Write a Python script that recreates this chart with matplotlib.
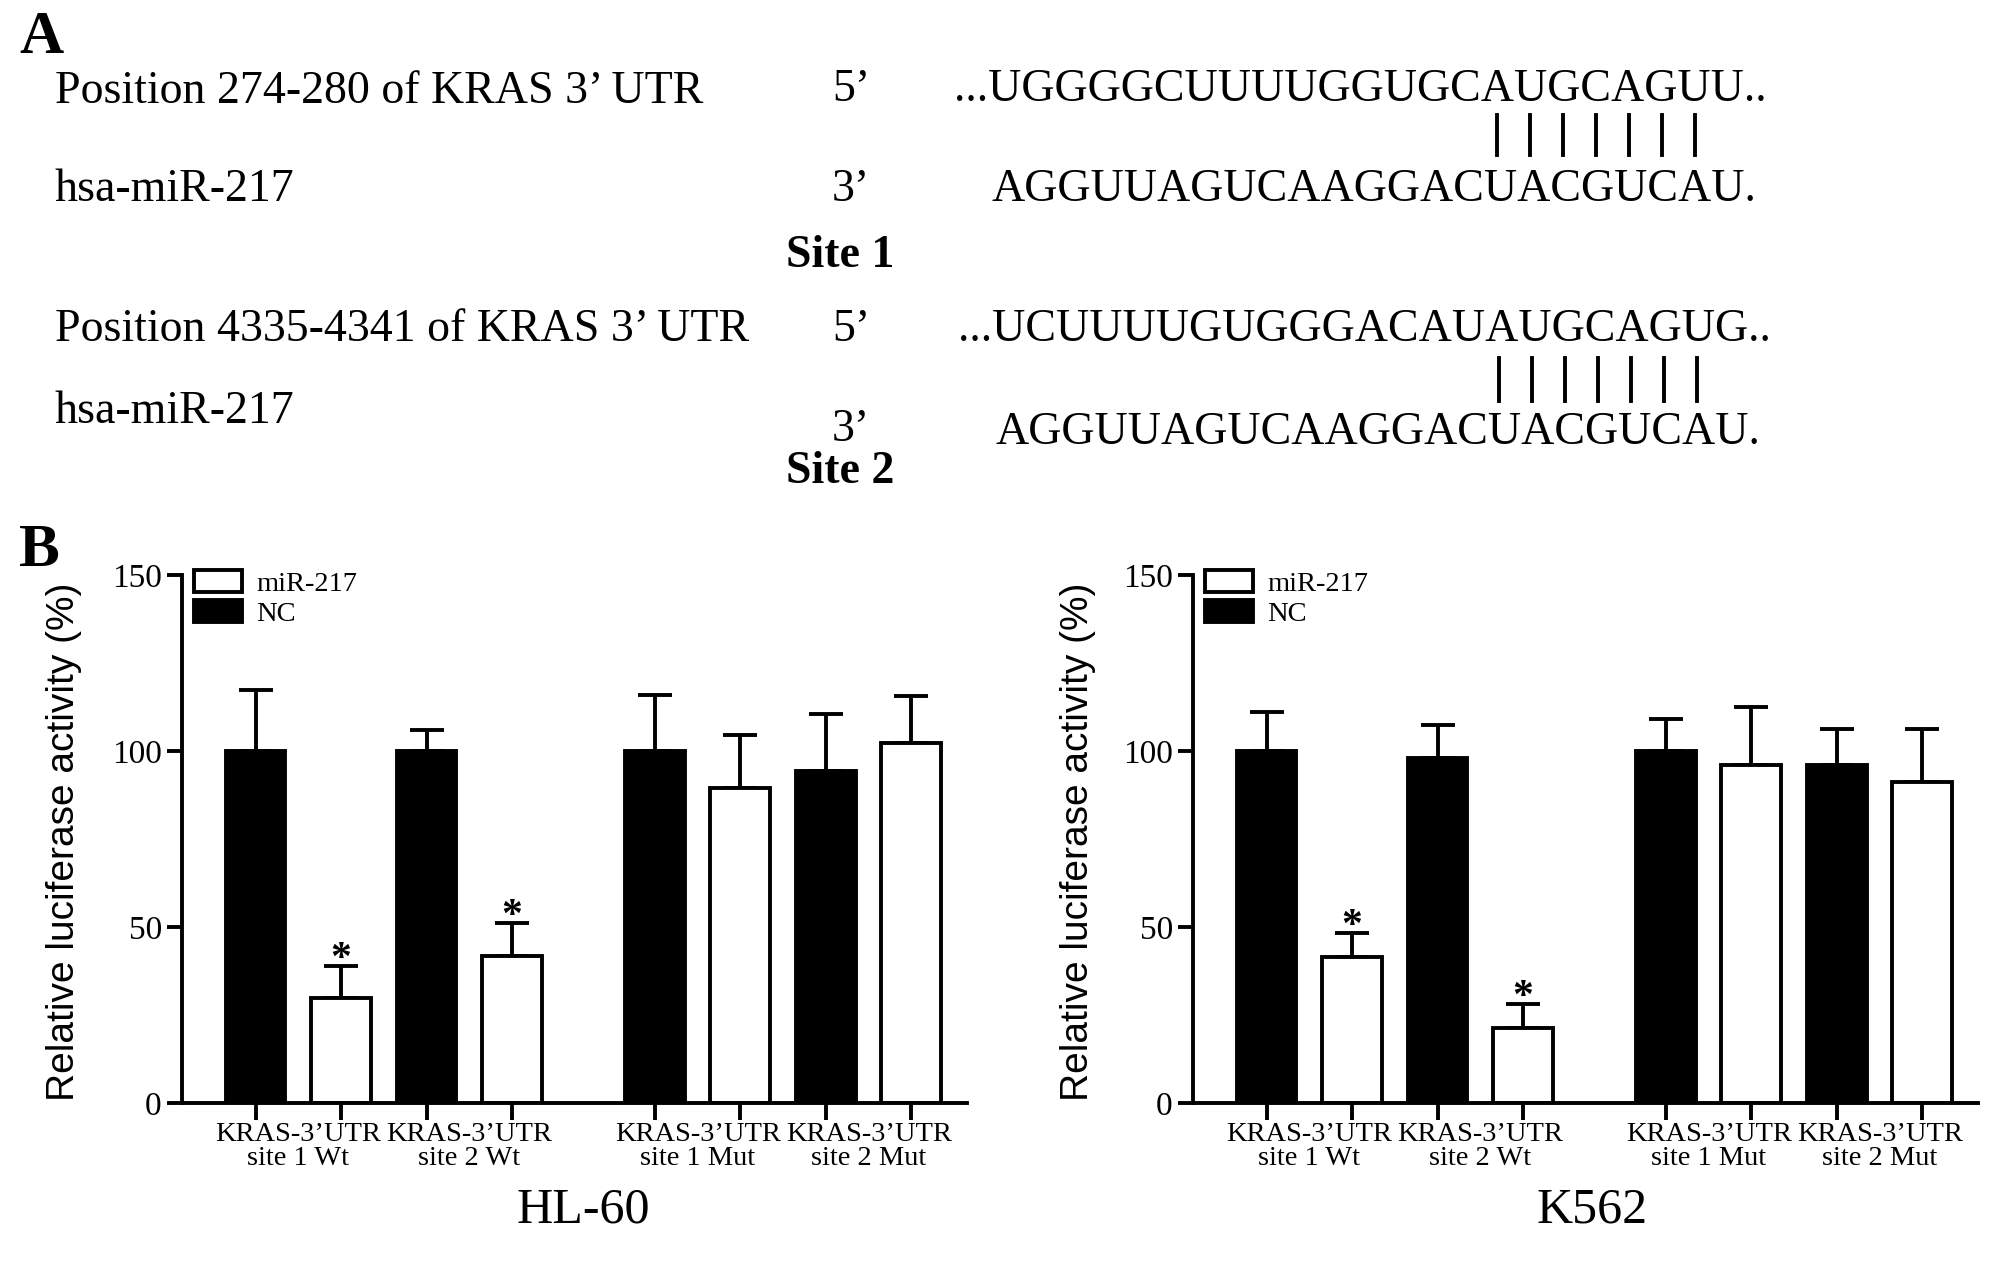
import matplotlib
matplotlib.use('Agg')
import matplotlib.pyplot as plt
import numpy as np

SERIF = 'Liberation Serif'
SANS = 'Liberation Sans'

# ---- data ----
constructs = ['KRAS-3\u2019UTR\nsite 1 Wt', 'KRAS-3\u2019UTR\nsite 2 Wt',
              'KRAS-3\u2019UTR\nsite 1 Mut', 'KRAS-3\u2019UTR\nsite 2 Mut']
cell_lines = ['HL-60', 'K562']

hl60_nc = [100, 100, 100, 94.2]
hl60_nc_err = [17.3, 6.0, 15.8, 16.4]
hl60_mir = [29.8, 41.8, 89.6, 102.2]
hl60_mir_err = [9.1, 9.3, 14.9, 13.5]
hl60_sig = [True, True, False, False]

k562_nc = [100, 98.0, 100, 96.0]
k562_nc_err = [11.0, 9.4, 9.0, 10.3]
k562_mir = [41.5, 21.3, 96.0, 91.3]
k562_mir_err = [6.8, 6.8, 16.5, 15.0]
k562_sig = [True, True, False, False]

yticks = [0, 50, 100, 150]

# sequence panel
site_rows = [
    ('Position 274-280 of KRAS 3\u2019 UTR', '5\u2019', '...UGGGGCUUUUGGUGCAUGCAGUU..'),
    ('hsa-miR-217', '3\u2019', 'AGGUUAGUCAAGGACUACGUCAU.'),
    ('Position 4335-4341 of KRAS 3\u2019 UTR', '5\u2019', '...UCUUUUGUGGGACAUAUGCAGUG..'),
    ('hsa-miR-217', '3\u2019', 'AGGUUAGUCAAGGACUACGUCAU.'),
]
n_pairs = 7

W, H = 2008, 1264
fig = plt.figure(figsize=(W / 100, H / 100), dpi=100)


def fx(px):
    return px / W


def fy(py):
    return 1 - py / H


# ---- panel A ----
fig.text(fx(19), fy(38), 'A', family=SERIF, weight='bold', fontsize=44, va='center')
fig.text(fx(19), fy(551), 'B', family=SERIF, weight='bold', fontsize=44, va='center')

row_y = [92, 190, 330, 412]
prime_y = [90, 190, 330, 430]
seq_x = [954, 992, 958, 996]
seq_y = [90, 190, 330, 433]
for (lab, prime, seq), ly, py, sx, sy in zip(site_rows, row_y, prime_y, seq_x, seq_y):
    fig.text(fx(55), fy(ly), lab, family=SERIF, fontsize=33, va='center')
    fig.text(fx(832), fy(py), prime, family=SERIF, fontsize=33, va='center')
    fig.text(fx(sx), fy(sy), seq, family=SERIF, fontsize=33, va='center')

for name, y in [('Site 1', 256), ('Site 2', 472)]:
    fig.text(fx(786), fy(y), name, family=SERIF, weight='bold', fontsize=33, va='center')

for x0, y0, y1 in [(1497, 115, 155), (1499, 358, 401)]:
    for i in range(n_pairs):
        x = x0 + i * 33
        fig.add_artist(plt.Line2D([fx(x), fx(x)], [fy(y0), fy(y1)],
                                  transform=fig.transFigure, color='black', lw=2.8))

# ---- panel B ----
centers = np.array([0.5, 2.5, 5.17, 7.17])
bw = 0.70
lw = 2.8

panels = [
    (hl60_nc, hl60_nc_err, hl60_mir, hl60_mir_err, hl60_sig, 182, 583, 64),
    (k562_nc, k562_nc_err, k562_mir, k562_mir_err, k562_sig, 1193, 1592, 1078),
]

for (nc, nce, mir, mire, sig, left_px, title_px, ylab_px), cl in zip(panels, cell_lines):
    ax = fig.add_axes([fx(left_px), fy(1103), 785 / W, (1103 - 575) / H])
    nc_x = centers - 0.5
    mir_x = centers + 0.5
    ax.errorbar(nc_x, nc, yerr=[np.zeros(4), nce], fmt='none', ecolor='black',
                elinewidth=lw, capsize=12, capthick=lw, zorder=1)
    ax.errorbar(mir_x, mir, yerr=[np.zeros(4), mire], fmt='none', ecolor='black',
                elinewidth=lw, capsize=12, capthick=lw, zorder=1)
    ax.bar(mir_x, mir, bw, color='white', edgecolor='black', linewidth=lw,
           label='miR-217', zorder=2)
    ax.bar(nc_x, nc, bw, color='black', edgecolor='black', linewidth=lw,
           label='NC', zorder=2)
    for x, v, e, s in zip(mir_x, mir, mire, sig):
        if s:
            ax.text(x, v + e - 1, '*', family=SERIF, weight='bold', fontsize=30,
                    ha='center', va='baseline')

    ax.set_xlim(-0.86, 8.32)
    ax.set_ylim(0, 150)
    for side in ['top', 'right']:
        ax.spines[side].set_visible(False)
    for side in ['left', 'bottom']:
        ax.spines[side].set_linewidth(lw)

    ax.set_yticks(yticks)
    ax.set_yticklabels([str(t) for t in yticks], family=SERIF, fontsize=24)
    ax.tick_params(axis='y', length=11, width=lw, pad=3.5)

    ax.set_xticks(np.concatenate([nc_x, mir_x]))
    ax.set_xticklabels([])
    ax.tick_params(axis='x', which='major', length=12, width=lw)
    ax.set_xticks(centers, minor=True)
    ax.set_xticklabels(constructs, minor=True, family=SERIF, fontsize=20.5,
                       linespacing=0.95)
    ax.tick_params(axis='x', which='minor', length=0, pad=14)

    h, l = ax.get_legend_handles_labels()
    ax.legend(h, l, loc='upper left', bbox_to_anchor=(12 / 785, 1.01),
              frameon=False, borderpad=0, borderaxespad=0,
              handlelength=1.7, handleheight=0.84, handletextpad=0.5,
              labelspacing=0.1, prop={'family': SERIF, 'size': 20.5})

    fig.text(fx(ylab_px), fy(842), 'Relative luciferase activity (%)', family=SANS,
             fontsize=28, rotation=90, ha='center', va='center')
    fig.text(fx(title_px), fy(1210), cl, family=SERIF, fontsize=36,
             ha='center', va='center')

fig.savefig('out.png', dpi=100)
